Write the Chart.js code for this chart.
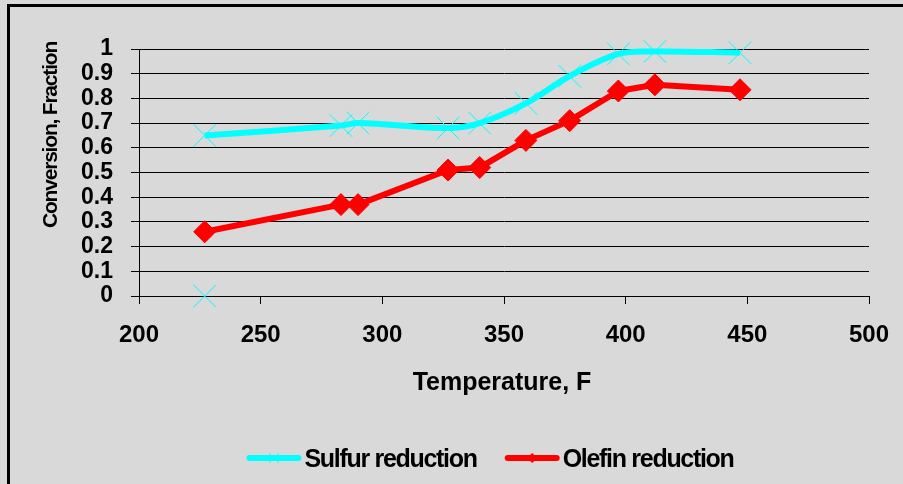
<!DOCTYPE html>
<html>
<head>
<meta charset="utf-8">
<script src="https://cdn.jsdelivr.net/npm/chart.js@4/dist/chart.umd.min.js"></script>
<style>
html,body{margin:0;padding:0;background:#d9d9d9;overflow:hidden;}
canvas{display:block;}
</style>
</head>
<body>
<canvas id="c" width="903" height="484"></canvas>
<script>
// ---- Data ----
const temperatures    = [227, 283, 290, 327, 340, 359, 377, 397, 412, 447];
const sulfurReduction = [0.65, 0.69, 0.70, 0.68, 0.70, 0.78, 0.89, 0.98, 0.99, 0.985];
const olefinReduction = [0.26, 0.37, 0.37, 0.51, 0.52, 0.63, 0.71, 0.83, 0.855, 0.835];
const sulfurStrayX    = [227];
const sulfurStrayY    = [0];
const seriesNames     = ['Sulfur reduction', 'Olefin reduction'];
const xTickValues     = [200, 250, 300, 350, 400, 450, 500];
const xTickLabels     = ['200', '250', '300', '350', '400', '450', '500'];
const yTickValues     = [0, 0.1, 0.2, 0.3, 0.4, 0.5, 0.6, 0.7, 0.8, 0.9, 1];
const yTickLabels     = ['0', '0.1', '0.2', '0.3', '0.4', '0.5', '0.6', '0.7', '0.8', '0.9', '1'];
const xTitle          = 'Temperature, F';
const yTitle          = 'Conversion, Fraction';

const FONT = '"Liberation Sans", Arial, Helvetica, sans-serif';
const CYAN = '#00ffff';
const RED = '#ff0000';
const BG = '#d9d9d9';

function miniMarker(ctx, style, x, y, r, color) {
  ctx.save();
  ctx.strokeStyle = color; ctx.fillStyle = color; ctx.lineWidth = 1;
  ctx.beginPath();
  if (style === 'crossRot') {
    const d = r * Math.SQRT1_2;
    ctx.moveTo(x - d, y - d); ctx.lineTo(x + d, y + d);
    ctx.moveTo(x + d, y - d); ctx.lineTo(x - d, y + d);
    ctx.stroke();
  } else {
    ctx.moveTo(x - r, y); ctx.lineTo(x, y + r); ctx.lineTo(x + r, y); ctx.lineTo(x, y - r);
    ctx.closePath(); ctx.fill();
  }
  ctx.restore();
}

const decor = {
  id: 'decor',
  beforeDraw(chart) {
    const ctx = chart.ctx;
    ctx.save();
    ctx.fillStyle = BG;
    ctx.fillRect(0, 0, chart.width, chart.height);
    ctx.fillStyle = '#000';
    ctx.fillRect(7, 4, chart.width - 7, 3);
    ctx.fillRect(7, 4, 3, chart.height - 4);
    ctx.restore();
  },
  afterDraw(chart) {
    const ctx = chart.ctx;
    const a = chart.chartArea;
    ctx.save();
    ctx.fillStyle = '#000';
    // x axis title
    ctx.font = 'bold 25px ' + FONT;
    ctx.textAlign = 'center';
    ctx.textBaseline = 'alphabetic';
    ctx.fillText(xTitle, (a.left + a.right) / 2 - 2, 390);
    // y axis title
    ctx.save();
    ctx.translate(57, 135);
    ctx.rotate(-Math.PI / 2);
    ctx.font = 'bold 21px ' + FONT;
    ctx.letterSpacing = '-1.2px';
    ctx.fillText(yTitle, 0, 0);
    ctx.restore();
    // legend
    ctx.save();
    ctx.font = 'bold 25px ' + FONT;
    ctx.letterSpacing = '-1.3px';
    ctx.textAlign = 'left';
    const sampleLen = 55, gapText = 3, gapItem = 28;
    const items = [0, 1].map(i => {
      const ds = chart.data.datasets[i];
      return { ds, w: sampleLen + gapText + ctx.measureText(ds.label).width };
    });
    const total = items.reduce((s, it) => s + it.w, 0) + gapItem * (items.length - 1);
    let x = 490 - total / 2;
    const ly = 458;
    items.forEach(it => {
      ctx.save();
      ctx.strokeStyle = it.ds.borderColor;
      ctx.lineWidth = 6;
      ctx.lineCap = 'round';
      ctx.beginPath();
      ctx.moveTo(x + 3, ly); ctx.lineTo(x + sampleLen - 3, ly);
      ctx.stroke();
      ctx.restore();
      miniMarker(ctx, it.ds.pointStyle, x + sampleLen / 2, ly, it.ds.pointStyle === 'crossRot' ? 7 : 5, it.ds.borderColor);
      ctx.fillStyle = '#000';
      ctx.fillText(it.ds.label, x + sampleLen + gapText, 466.5);
      x += it.w + gapItem;
    });
    ctx.restore();
    ctx.restore();
  }
};

new Chart(document.getElementById('c'), {
  type: 'line',
  data: {
    datasets: [
      {
        label: seriesNames[0],
        data: temperatures.map((t, i) => ({ x: t, y: sulfurReduction[i] })),
        borderColor: CYAN, backgroundColor: CYAN,
        borderWidth: 6, tension: 0.35, borderJoinStyle: 'round',
        pointStyle: 'crossRot', pointRadius: 16, pointBorderWidth: 1,
        pointBorderColor: CYAN, pointBackgroundColor: CYAN,
        clip: false
      },
      {
        label: seriesNames[1],
        data: temperatures.map((t, i) => ({ x: t, y: olefinReduction[i] })),
        borderColor: RED, backgroundColor: RED,
        borderWidth: 6, tension: 0, borderJoinStyle: 'round',
        pointStyle: 'rectRot', pointRadius: 11, pointBorderWidth: 1,
        pointBorderColor: RED, pointBackgroundColor: RED,
        clip: false
      },
      {
        label: seriesNames[0] + ' (stray point)',
        data: sulfurStrayX.map((t, i) => ({ x: t, y: sulfurStrayY[i] })),
        showLine: false,
        borderColor: CYAN, backgroundColor: CYAN,
        pointStyle: 'crossRot', pointRadius: 16, pointBorderWidth: 1,
        pointBorderColor: CYAN,
        clip: false
      }
    ]
  },
  options: {
    responsive: false,
    devicePixelRatio: 1,
    animation: false,
    events: [],
    layout: { padding: { left: 0, top: 49, right: 34, bottom: 0 } },
    plugins: { legend: { display: false }, tooltip: { enabled: false }, title: { display: false } },
    scales: {
      x: {
        type: 'linear', min: 200, max: 500,
        afterBuildTicks: s => { s.ticks = xTickValues.map(v => ({ value: v })); },
        afterFit: s => { s.height = 484 - 296; s.paddingLeft = 0; s.paddingRight = 0; },
        ticks: {
          callback: (v, i) => xTickLabels[i],
          font: { family: FONT, size: 24, weight: 'bold' },
          color: '#000', padding: 17, maxRotation: 0, autoSkip: false
        },
        grid: { drawOnChartArea: false, drawTicks: true, tickLength: 8, color: '#000', lineWidth: 1 },
        border: { display: true, color: '#000', width: 1 }
      },
      y: {
        type: 'linear', min: 0, max: 1,
        afterBuildTicks: s => { s.ticks = yTickValues.map(v => ({ value: v })); },
        afterFit: s => { s.width = 139; s.paddingTop = 0; s.paddingBottom = 0; },
        ticks: {
          callback: (v, i) => yTickLabels[i],
          font: { family: FONT, size: 23, weight: 'bold' },
          color: '#000', padding: 18, autoSkip: false
        },
        grid: { color: '#000', lineWidth: 1, drawTicks: true, tickLength: 8 },
        border: { display: true, color: '#000', width: 1 }
      }
    }
  },
  plugins: [decor]
});
</script>
</body>
</html>
